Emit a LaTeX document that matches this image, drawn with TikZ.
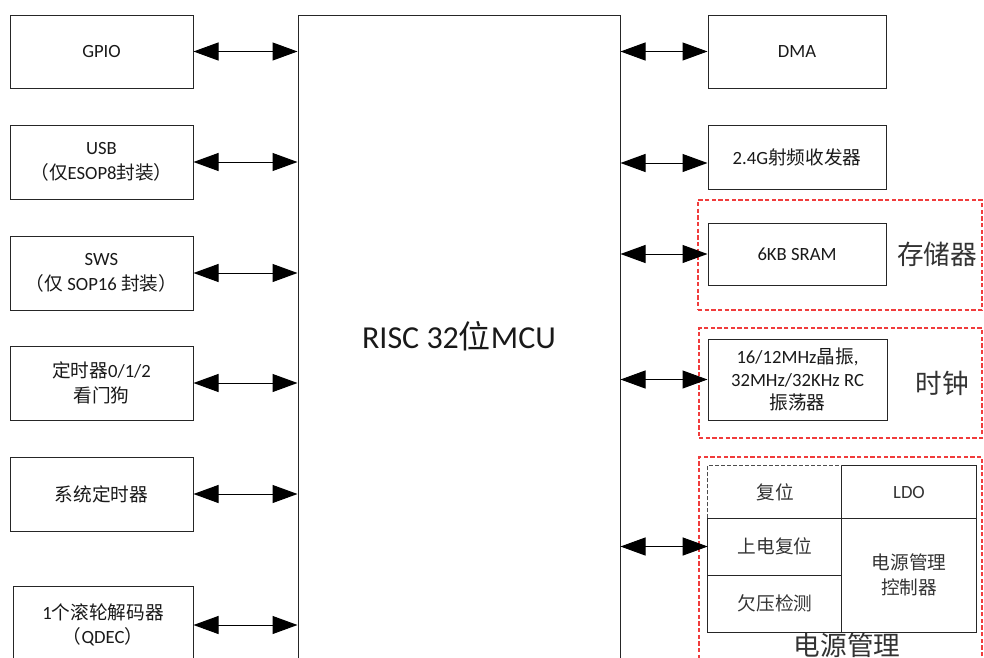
\documentclass[tikz,border=0pt]{standalone}
\usepackage{fontspec}
\setmainfont{Carlito}
\newfontfamily\zhfont{Noto Sans CJK SC}
\newcommand\zh[1]{{\zhfont #1}}
\newdimen\pxu \pxu=0.75pt
\usetikzlibrary{arrows.meta}
\definecolor{grpred}{RGB}{240,60,60}
\begin{document}
\begin{tikzpicture}[x=0.75pt,y=-0.75pt,
  blk/.style={draw=black!85, line width=0.75pt, inner sep=0pt, align=center,
              font=\fontsize{14}{18.5}\selectfont, text=black!90},
  sz/.style 2 args={minimum width=#1\pxu, minimum height=#2\pxu},
  cellt/.style={inner sep=0pt, align=center, font=\fontsize{14}{18.5}\selectfont, text=black!80},
  cellline/.style={draw=black!85, line width=0.75pt},
  celldash/.style={draw=black!70, line width=0.75pt, dash pattern=on 3pt off 1.5pt},
  link/.style={draw=black, line width=0.75pt,
               {Triangle[length=18.75pt,width=13.5pt]}-{Triangle[length=18.75pt,width=13.5pt]}},
  grp/.style={draw=grpred, line width=0.9pt, dash pattern=on 3.2pt off 1.8pt, inner sep=0pt},
  glabel/.style={font=\fontsize{20}{24}\selectfont, text=black!80, inner sep=0pt}
]
\useasboundingbox (0,0) rectangle (984,657);
\clip (0,0) rectangle (984,657);

% central MCU
\node[blk, sz={322}{643}, font=\fontsize{24}{28}\selectfont] (mcu) at (459,336.5) {RISC 32\zh{位}MCU};

% left peripherals
\node[blk, sz={183}{73}] (gpio) at (101.5,51.5) {GPIO};
\node[blk, sz={183}{74}] (usb) at (101.5,162) {USB\\\zh{（仅}ESOP8\zh{封装）}};
\node[blk, sz={183}{74}] (sws) at (101.5,273) {SWS\\\zh{（仅 }SOP16 \zh{封装）}};
\node[blk, sz={183}{74}] (tmr) at (101.5,383) {\zh{定时器}0/1/2\\\zh{看门狗}};
\node[blk, sz={183}{74}] (systmr) at (101.5,494) {\zh{系统定时器}};
\node[blk, sz={180}{78}] (qdec) at (103,625) {1\zh{个滚轮解码器}\\\zh{（}QDEC\zh{）}};

% right peripherals
\node[blk, sz={178}{73}] (dma) at (797,51.5) {DMA};
\node[blk, sz={178}{64}] (rf) at (797,157) {2.4G\zh{射频收发器}};
\node[blk, sz={178}{62}] (sram) at (797,254) {6KB SRAM};
\node[blk, sz={179}{81}, font=\fontsize{14}{17.5}\selectfont] (osc) at (797.5,379.5)
  {16/12MHz\zh{晶振},\\32MHz/32KHz RC\\\zh{振荡器}};

% groups
\node[grp, sz={284}{110}] (gstore) at (840,255) {};
\node[grp, sz={283}{110}] (gclk) at (840.5,383) {};
\node[grp, sz={283}{243}] (gpwr) at (840.5,578.5) {};
\node[glabel] (lstore) at (937,254) {\zh{存储器}};
\node[glabel] (lclk) at (942,383) {\zh{时钟}};
\node[glabel] (lpwr) at (847,645) {\zh{电源管理}};

% power management table
\node[cellt, sz={134}{52}] (reset) at (775,492) {\zh{复位}};
\node[cellt, sz={134}{52}] (ldo) at (909,492) {LDO};
\node[cellt, sz={134}{57}] (por) at (775,546.5) {\zh{上电复位}};
\node[cellt, sz={134}{57}] (bod) at (775,603.5) {\zh{欠压检测}};
\node[cellt, sz={134}{114}] (pmu) at (909,575) {\zh{电源管理}\\\zh{控制器}};
\draw[cellline] (reset.south west) -- (bod.south west) -- (pmu.south east)
  -- (ldo.north east) -- (ldo.north west) -- (pmu.south west);
\draw[cellline] (reset.south west) -- (ldo.south east);
\draw[cellline] (por.south west) -- (por.south east);
\draw[celldash] (reset.south west) -- (reset.north west) -- (reset.north east);

% connectors
\draw[link] (gpio.east) -- (gpio.east -| mcu.west);
\draw[link] (usb.east) -- (usb.east -| mcu.west);
\draw[link] (sws.east) -- (sws.east -| mcu.west);
\draw[link] (tmr.east) -- (tmr.east -| mcu.west);
\draw[link] (systmr.east) -- (systmr.east -| mcu.west);
\draw[link] (qdec.east) -- (qdec.east -| mcu.west);

\coordinate (rfin) at ([yshift=-4.5pt]rf.west);
\draw[link] (dma.west -| mcu.east) -- (dma.west);
\draw[link] (rfin -| mcu.east) -- (rfin);
\draw[link] (sram.west -| mcu.east) -- (sram.west);
\draw[link] (osc.west -| mcu.east) -- (osc.west);
\draw[link] (por.west -| mcu.east) -- (por.west);
\end{tikzpicture}
\end{document}
